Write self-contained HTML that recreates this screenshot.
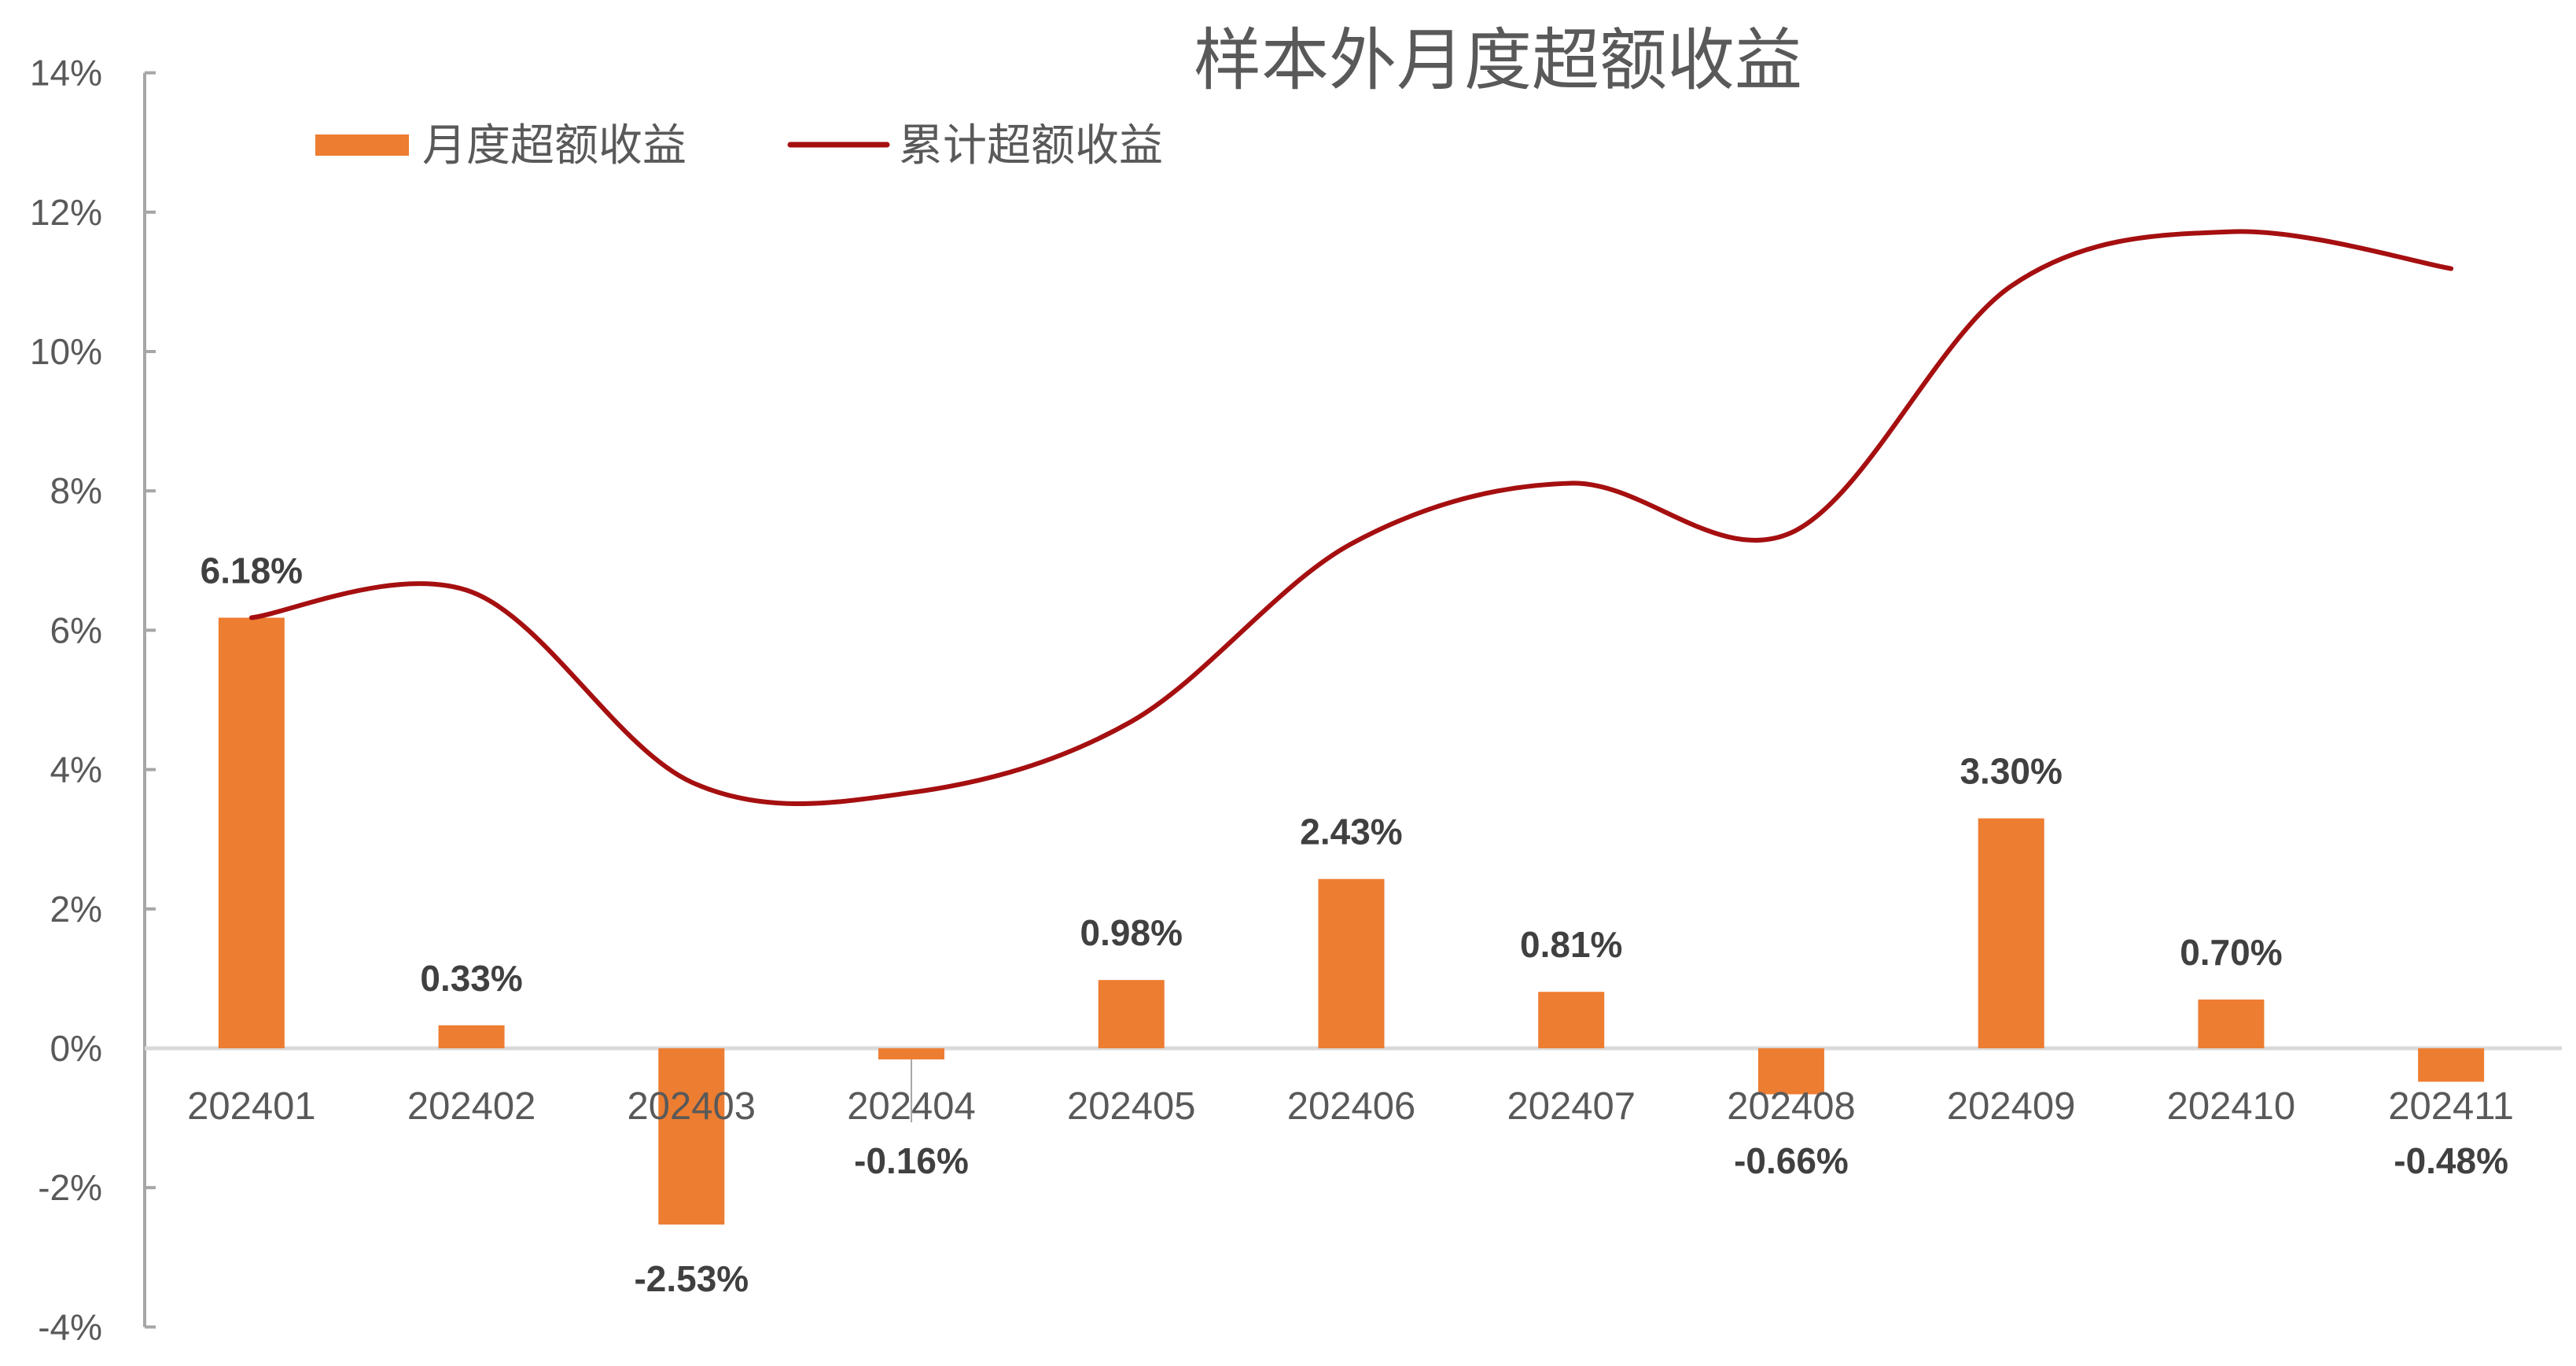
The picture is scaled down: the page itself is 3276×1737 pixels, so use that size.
<!DOCTYPE html>
<html><head><meta charset="utf-8"><style>
html,body{margin:0;padding:0;background:#fff;}
svg{display:block;font-family:"Liberation Sans","Noto Sans CJK SC",sans-serif;}
</style></head><body>
<svg id="chart" width="3276" height="1737" viewBox="0 0 3276 1737" xmlns="http://www.w3.org/2000/svg">
<rect width="3276" height="1737" fill="#fff"/>
<text x="1905" y="106" text-anchor="middle" font-size="86" fill="#595959">样本外月度超额收益</text>
<g>
<rect x="401" y="171" width="119" height="27" fill="#ED7D31"/>
<text x="537" y="204" font-size="56" fill="#595959">月度超额收益</text>
<line x1="1005" y1="184" x2="1128" y2="184" stroke="#A50F10" stroke-width="7" stroke-linecap="round"/>
<text x="1143" y="204" font-size="56" fill="#595959">累计超额收益</text>
</g>
<g id="axes"></g>
<g id="bars"></g>
<g id="line"></g>
<g id="labels"></g>
</svg>
<script>
const categories = ["202401","202402","202403","202404","202405","202406","202407","202408","202409","202410","202411"];
const monthly = [6.18,0.33,-2.53,-0.16,0.98,2.43,0.81,-0.66,3.30,0.70,-0.48];
const cumulative = [6.18,6.55,3.82,3.67,4.69,7.24,8.11,7.40,10.94,11.72,11.19];
const yTicks = [-4,-2,0,2,4,6,8,10,12,14];

const NS = "http://www.w3.org/2000/svg";
const left = 184, right = 3261;
const band = (right - left) / categories.length;
function xPos(i){ return left - 4 + band * (i + 0.5); }
function yPos(v){ return 1333 - v * 88.6; }
function mk(tag, attrs, parent){
  const e = document.createElementNS(NS, tag);
  for (const k in attrs) e.setAttribute(k, attrs[k]);
  parent.appendChild(e);
  return e;
}
const axes = document.getElementById("axes");
const bars = document.getElementById("bars");
const lineG = document.getElementById("line");
const labels = document.getElementById("labels");

let ax = mk("line", {x1:left, y1:yPos(14), x2:left, y2:yPos(-4), stroke:"#A6A6A6", "stroke-width":4}, axes);


yTicks.forEach(t => {
  const tk = mk("line", {x1:left, y1:yPos(t), x2:left+14, y2:yPos(t), stroke:"#A6A6A6", "stroke-width":4}, axes);
  
  
  const tl = mk("text", {x:130, y:yPos(t)+16, "text-anchor":"end", "font-size":46, fill:"#595959"}, axes);
  tl.textContent = t + "%";
  
  
});
monthly.forEach((v, i) => {
  const x = xPos(i), y0 = yPos(0), y1 = yPos(v);
  const r = mk("rect", {x:x-42, y:Math.min(y0,y1), width:84, height:Math.abs(y1-y0), fill:"#ED7D31"}, bars);
  
  
});
let zl = mk("line", {x1:left, y1:yPos(0), x2:3258, y2:yPos(0), stroke:"#D9D9D9", "stroke-width":5}, axes);


categories.forEach((c, i) => {
  const t = mk("text", {x:xPos(i), y:1423, "text-anchor":"middle", "font-size":49, fill:"#595959"}, labels);
  t.textContent = c;
  
  
});
{
  const i = 3;
  const ll = mk("line", {x1:xPos(i), y1:yPos(monthly[i]), x2:xPos(i), y2:yPos(monthly[i])+80, stroke:"#A6A6A6", "stroke-width":2}, labels);
  
  
}
const pts = cumulative.map((v, i) => [xPos(i), yPos(v)]);
let d = "M" + pts[0][0] + "," + pts[0][1];
for (let i = 0; i < pts.length - 1; i++) {
  const p0 = pts[Math.max(i-1,0)], p1 = pts[i], p2 = pts[i+1], p3 = pts[Math.min(i+2,pts.length-1)];
  const t = 1/6;
  const c1 = [p1[0] + (p2[0]-p0[0])*t, p1[1] + (p2[1]-p0[1])*t];
  const c2 = [p2[0] - (p3[0]-p1[0])*t, p2[1] - (p3[1]-p1[1])*t];
  d += " C" + c1[0] + "," + c1[1] + " " + c2[0] + "," + c2[1] + " " + p2[0] + "," + p2[1];
}
const path = mk("path", {d:d, fill:"none", stroke:"#A50F10", "stroke-width":6, "stroke-linecap":"round"}, lineG);


monthly.forEach((v, i) => {
  let y;
  if (v >= 0) y = yPos(v) - 44;
  else y = Math.max(yPos(v) + 85, 1492);
  const t = mk("text", {x:xPos(i), y:y, "text-anchor":"middle", "font-size":46, "font-weight":"bold", fill:"#404040"}, labels);
  t.textContent = v.toFixed(2) + "%";
  
  
});
</script>
</body></html>
